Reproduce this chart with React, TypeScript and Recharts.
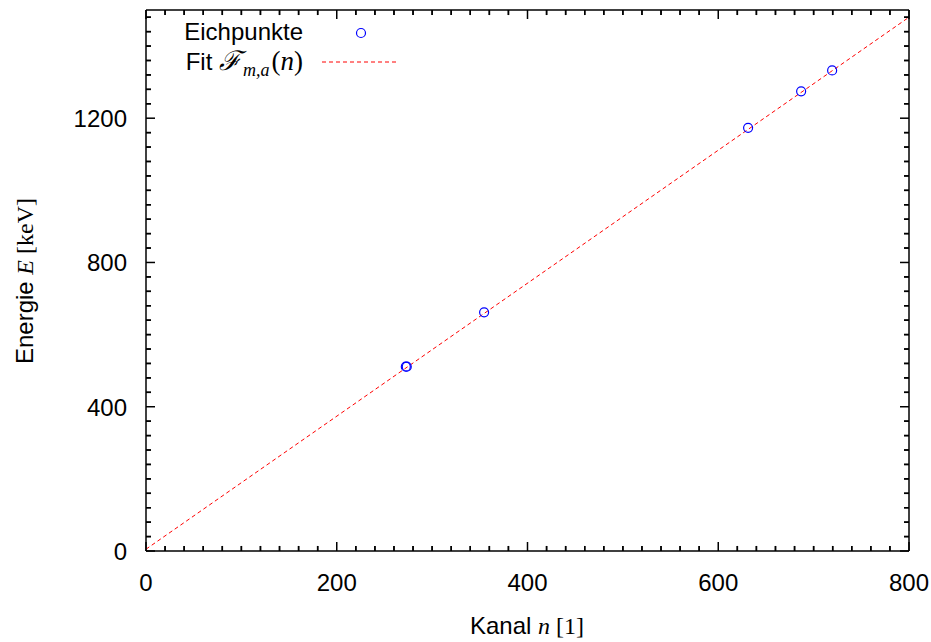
import React from "react";
import { ComposedChart, Scatter, XAxis, YAxis, ReferenceLine } from "recharts";

// calibration points (channel n, energy E in keV)
const kanal = [272.4, 273.4, 354.5, 631.3, 686.9, 719.4];
const energie = [511, 511, 661.7, 1173.2, 1274.5, 1332.5];

// fit line endpoints
const fitKanal = [0, 800];
const fitEnergie = [5, 1480];

const xTicks = Array.from({ length: 41 }, (_, i) => i * 20);
const yTicks = Array.from({ length: 38 }, (_, i) => i * 40);
const xMajor = [0, 200, 400, 600, 800];
const yMajor = [0, 400, 800, 1200];
const xMinor = xTicks.filter((v) => !xMajor.includes(v));
const yMinor = yTicks.filter((v) => !yMajor.includes(v));

const points = kanal.map((n, i) => ({ n, E: energie[i] }));
const fit = fitKanal.map((n, i) => ({ n, E: fitEnergie[i] }));

const SANS = "'Liberation Sans', Arial, sans-serif";
const SERIF = "'Liberation Serif', 'DejaVu Serif', serif";
// default recharts tickSize (6) + tickMargin (2)
const OFF = 8;
// minor tick length (~5px) in data units of the other axis
const MINOR_E = 14;
const MINOR_N = 5.2;

const Circle = (props: any) => (
  <circle cx={props.cx} cy={props.cy} r={4.5} fill="none" stroke="#0000ff" strokeWidth={1.2} />
);

const BottomTick = (p: any) => {
  const major = xMajor.includes(p.payload.value);
  const y0 = p.y - OFF;
  return (
    <g>
      <path d={`M${p.x},${y0}V${y0 - (major ? 9 : 5)}`} stroke="#000" strokeWidth={1.5} fill="none" />
      <text x={p.x} y={y0 + 40} textAnchor="middle" fontSize={24} fontFamily={SANS} fill="#000">
        {major ? p.payload.value : ""}
      </text>
    </g>
  );
};

const TopTick = (p: any) => {
  const major = xMajor.includes(p.payload.value);
  const y0 = p.y + OFF;
  return (
    <g>
      <path d={`M${p.x},${y0}V${y0 + (major ? 9 : 5)}`} stroke="#000" strokeWidth={1.5} fill="none" />
    </g>
  );
};

const LeftTick = (p: any) => {
  const major = yMajor.includes(p.payload.value);
  const x0 = p.x + OFF;
  return (
    <g>
      <path d={`M${x0},${p.y}H${x0 + (major ? 9 : 5)}`} stroke="#000" strokeWidth={1.5} fill="none" />
      <text x={x0 - 19} y={p.y + 9} textAnchor="end" fontSize={24} fontFamily={SANS} fill="#000">
        {major ? p.payload.value : ""}
      </text>
    </g>
  );
};

const RightTick = (p: any) => {
  const major = yMajor.includes(p.payload.value);
  const x0 = p.x - OFF;
  return (
    <g>
      <path d={`M${x0},${p.y}H${x0 - (major ? 9 : 5)}`} stroke="#000" strokeWidth={1.5} fill="none" />
    </g>
  );
};

const LegendBox = () => (
  <g transform="translate(160,10)">
    <text x={143} y={30} textAnchor="end" fontSize={24} fontFamily={SANS}>
      Eichpunkte
    </text>
    <circle cx={201} cy={23} r={4.5} fill="none" stroke="#0000ff" strokeWidth={1.2} />
    <text x={143} y={60} textAnchor="end" fontSize={24} fontFamily={SANS}>
      Fit{" "}
      <tspan fontFamily={SERIF} fontStyle="italic" fontSize={27}>ℱ</tspan>
      <tspan fontFamily={SERIF} fontStyle="italic" fontSize={18} dy={6} dx={2}>m,a</tspan>
      <tspan fontFamily={SERIF} fontSize={27} dy={-6} dx={2}>(</tspan>
      <tspan fontFamily={SERIF} fontStyle="italic" fontSize={27}>n</tspan>
      <tspan fontFamily={SERIF} fontSize={27}>)</tspan>
    </text>
    <line x1={162} y1={52} x2={238} y2={52} stroke="#ff0000" strokeWidth={1} strokeDasharray="4 3" />
  </g>
);

const axisLine = { stroke: "#000", strokeWidth: 1.5 };
const tickStroke = { stroke: "#000", strokeWidth: 1.5, ifOverflow: "visible" as const };

export default function App() {
  return (
    <div style={{ width: 931, height: 642, background: "#fff" }}>
      <style>{"body{margin:0}"}</style>
      <ComposedChart width={931} height={642} margin={{ top: 9, right: 21, bottom: 0, left: 46 }}>
        <XAxis
          xAxisId="b"
          type="number"
          dataKey="n"
          domain={[0, 800]}
          ticks={xTicks}
          interval={0}
          height={91}
          tickLine={false}
          axisLine={axisLine}
          tick={BottomTick}
        />
        <XAxis
          xAxisId="t"
          orientation="top"
          type="number"
          dataKey="n"
          domain={[0, 800]}
          ticks={xTicks}
          interval={0}
          height={1}
          tickLine={false}
          axisLine={axisLine}
          tick={TopTick}
        />
        <YAxis
          yAxisId="l"
          type="number"
          dataKey="E"
          domain={[0, 1500]}
          ticks={yTicks}
          interval={0}
          width={100}
          tickLine={false}
          axisLine={axisLine}
          tick={LeftTick}
        />
        <YAxis
          yAxisId="r"
          orientation="right"
          type="number"
          dataKey="E"
          domain={[0, 1500]}
          ticks={yTicks}
          interval={0}
          width={1}
          tickLine={false}
          axisLine={axisLine}
          tick={RightTick}
        />
        {/* minor ticks, inward on all four sides */}
        {xMinor.map((v) => (
          <ReferenceLine key={`xb${v}`} xAxisId="b" yAxisId="l" segment={[{ x: v, y: 0 }, { x: v, y: MINOR_E }]} {...tickStroke} />
        ))}
        {xMinor.map((v) => (
          <ReferenceLine key={`xt${v}`} xAxisId="b" yAxisId="l" segment={[{ x: v, y: 1500 }, { x: v, y: 1500 - MINOR_E }]} {...tickStroke} />
        ))}
        {yMinor.map((v) => (
          <ReferenceLine key={`yl${v}`} xAxisId="b" yAxisId="l" segment={[{ x: 0, y: v }, { x: MINOR_N, y: v }]} {...tickStroke} />
        ))}
        {yMinor.map((v) => (
          <ReferenceLine key={`yr${v}`} xAxisId="b" yAxisId="l" segment={[{ x: 800, y: v }, { x: 800 - MINOR_N, y: v }]} {...tickStroke} />
        ))}
        {/* invisible series so the mirrored top/right axes get a scale */}
        <Scatter xAxisId="t" yAxisId="r" data={fit} shape={() => null} isAnimationActive={false} />
        <Scatter
          xAxisId="b"
          yAxisId="l"
          data={fit}
          line={{ stroke: "#ff0000", strokeWidth: 1, strokeDasharray: "4 3" }}
          shape={() => null}
          isAnimationActive={false}
        />
        <Scatter xAxisId="b" yAxisId="l" data={points} shape={Circle} isAnimationActive={false} />
        <LegendBox />
        <text x={527} y={634} textAnchor="middle" fontSize={24} fontFamily={SANS}>
          Kanal{" "}
          <tspan fontFamily={SERIF} fontStyle="italic">n</tspan>
          <tspan fontFamily={SERIF}> [1]</tspan>
        </text>
        <text
          x={0}
          y={0}
          transform="translate(33,281) rotate(-90)"
          textAnchor="middle"
          fontSize={24}
          fontFamily={SANS}
        >
          Energie{" "}
          <tspan fontFamily={SERIF} fontStyle="italic">E</tspan>
          <tspan fontFamily={SERIF}> [keV]</tspan>
        </text>
      </ComposedChart>
    </div>
  );
}
